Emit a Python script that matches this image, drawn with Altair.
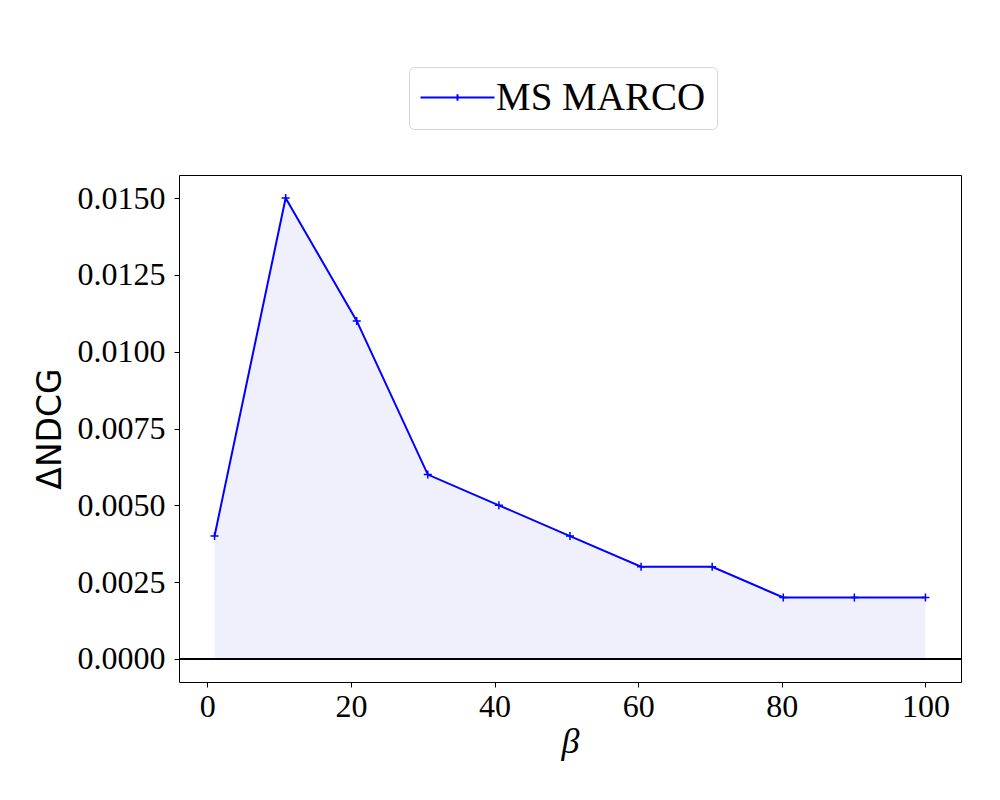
import altair as alt
import pandas as pd

beta = [1, 10.9, 20.8, 30.7, 40.6, 50.5, 60.4, 70.3, 80.2, 90.1, 100]
delta_ndcg = [0.004, 0.015, 0.011, 0.006, 0.005, 0.004, 0.003, 0.003, 0.002, 0.002, 0.002]
series_name = "MS MARCO"
x_ticks = [0, 20, 40, 60, 80, 100]
y_ticks = [0.0, 0.0025, 0.005, 0.0075, 0.01, 0.0125, 0.015]

df = pd.DataFrame({"beta": beta, "d": delta_ndcg, "series": series_name})
zero_df = pd.DataFrame({"z": [0.0]})

xs = alt.Scale(domain=[-3.95, 104.95], nice=False, zero=False)
ys = alt.Scale(domain=[-0.00075, 0.01575], nice=False, zero=False)

x_enc = alt.X("beta:Q", scale=xs,
              axis=alt.Axis(values=x_ticks, title="β", format="d",
                            titleFont="Liberation Serif", titleFontStyle="italic",
                            titleFontWeight="normal", titleFontSize=36,
                            titlePadding=2))
y_enc = alt.Y("d:Q", scale=ys,
              axis=alt.Axis(values=y_ticks, title="ΔNDCG", format=".4f",
                            titleFont="DejaVu Sans", titleFontWeight="normal",
                            titleFontSize=33, titlePadding=10))

area = alt.Chart(df).mark_area(color="#f0f0fc", opacity=1).encode(
    x=x_enc, y=y_enc, y2=alt.datum(0))

zero_rule = alt.Chart(zero_df).mark_rule(color="black", strokeWidth=2).encode(
    y=alt.Y("z:Q", scale=ys))

plus_path = "M-1,0H1M0,-1V1"
legend_path = "M-2,0H2M0,-0.18V0.18"

line = alt.Chart(df).mark_line(strokeWidth=2).encode(
    x=alt.X("beta:Q", scale=xs),
    y=alt.Y("d:Q", scale=ys),
    color=alt.Color("series:N",
                    scale=alt.Scale(domain=[series_name], range=["#0000ff"]),
                    legend=alt.Legend(title=None, orient="none",
                                      legendX=230, legendY=-108,
                                      symbolType=legend_path, symbolSize=1369,
                                      symbolOffset=18, symbolStrokeWidth=2,
                                      labelFont="Liberation Serif", labelFontSize=39,
                                      labelColor="black", labelOffset=19,
                                      labelLimit=500,
                                      padding=11, strokeColor="#d6d6d6",
                                      fillColor="white", cornerRadius=5)))

points = alt.Chart(df).mark_point(shape=plus_path, size=64, filled=False,
                                  color="#0000ff", strokeWidth=1.5, opacity=1).encode(
    x=alt.X("beta:Q", scale=xs),
    y=alt.Y("d:Q", scale=ys))

chart = alt.layer(area, zero_rule, line, points).properties(
    width=782, height=507,
    autosize=alt.AutoSizeParams(type="none"),
    padding={"left": 171, "top": 167, "right": 31, "bottom": 110},
).configure_view(stroke="black", strokeWidth=1).configure_axis(
    grid=False, domain=False, ticks=True, tickSize=5, tickColor="black", tickWidth=1,
    labelFont="Liberation Serif", labelFontSize=32, labelColor="black",
    labelPadding=4, titleColor="black",
).configure_axisY(labelPadding=9)

chart.save("out.html", embed_options={"renderer": "svg", "actions": False})
